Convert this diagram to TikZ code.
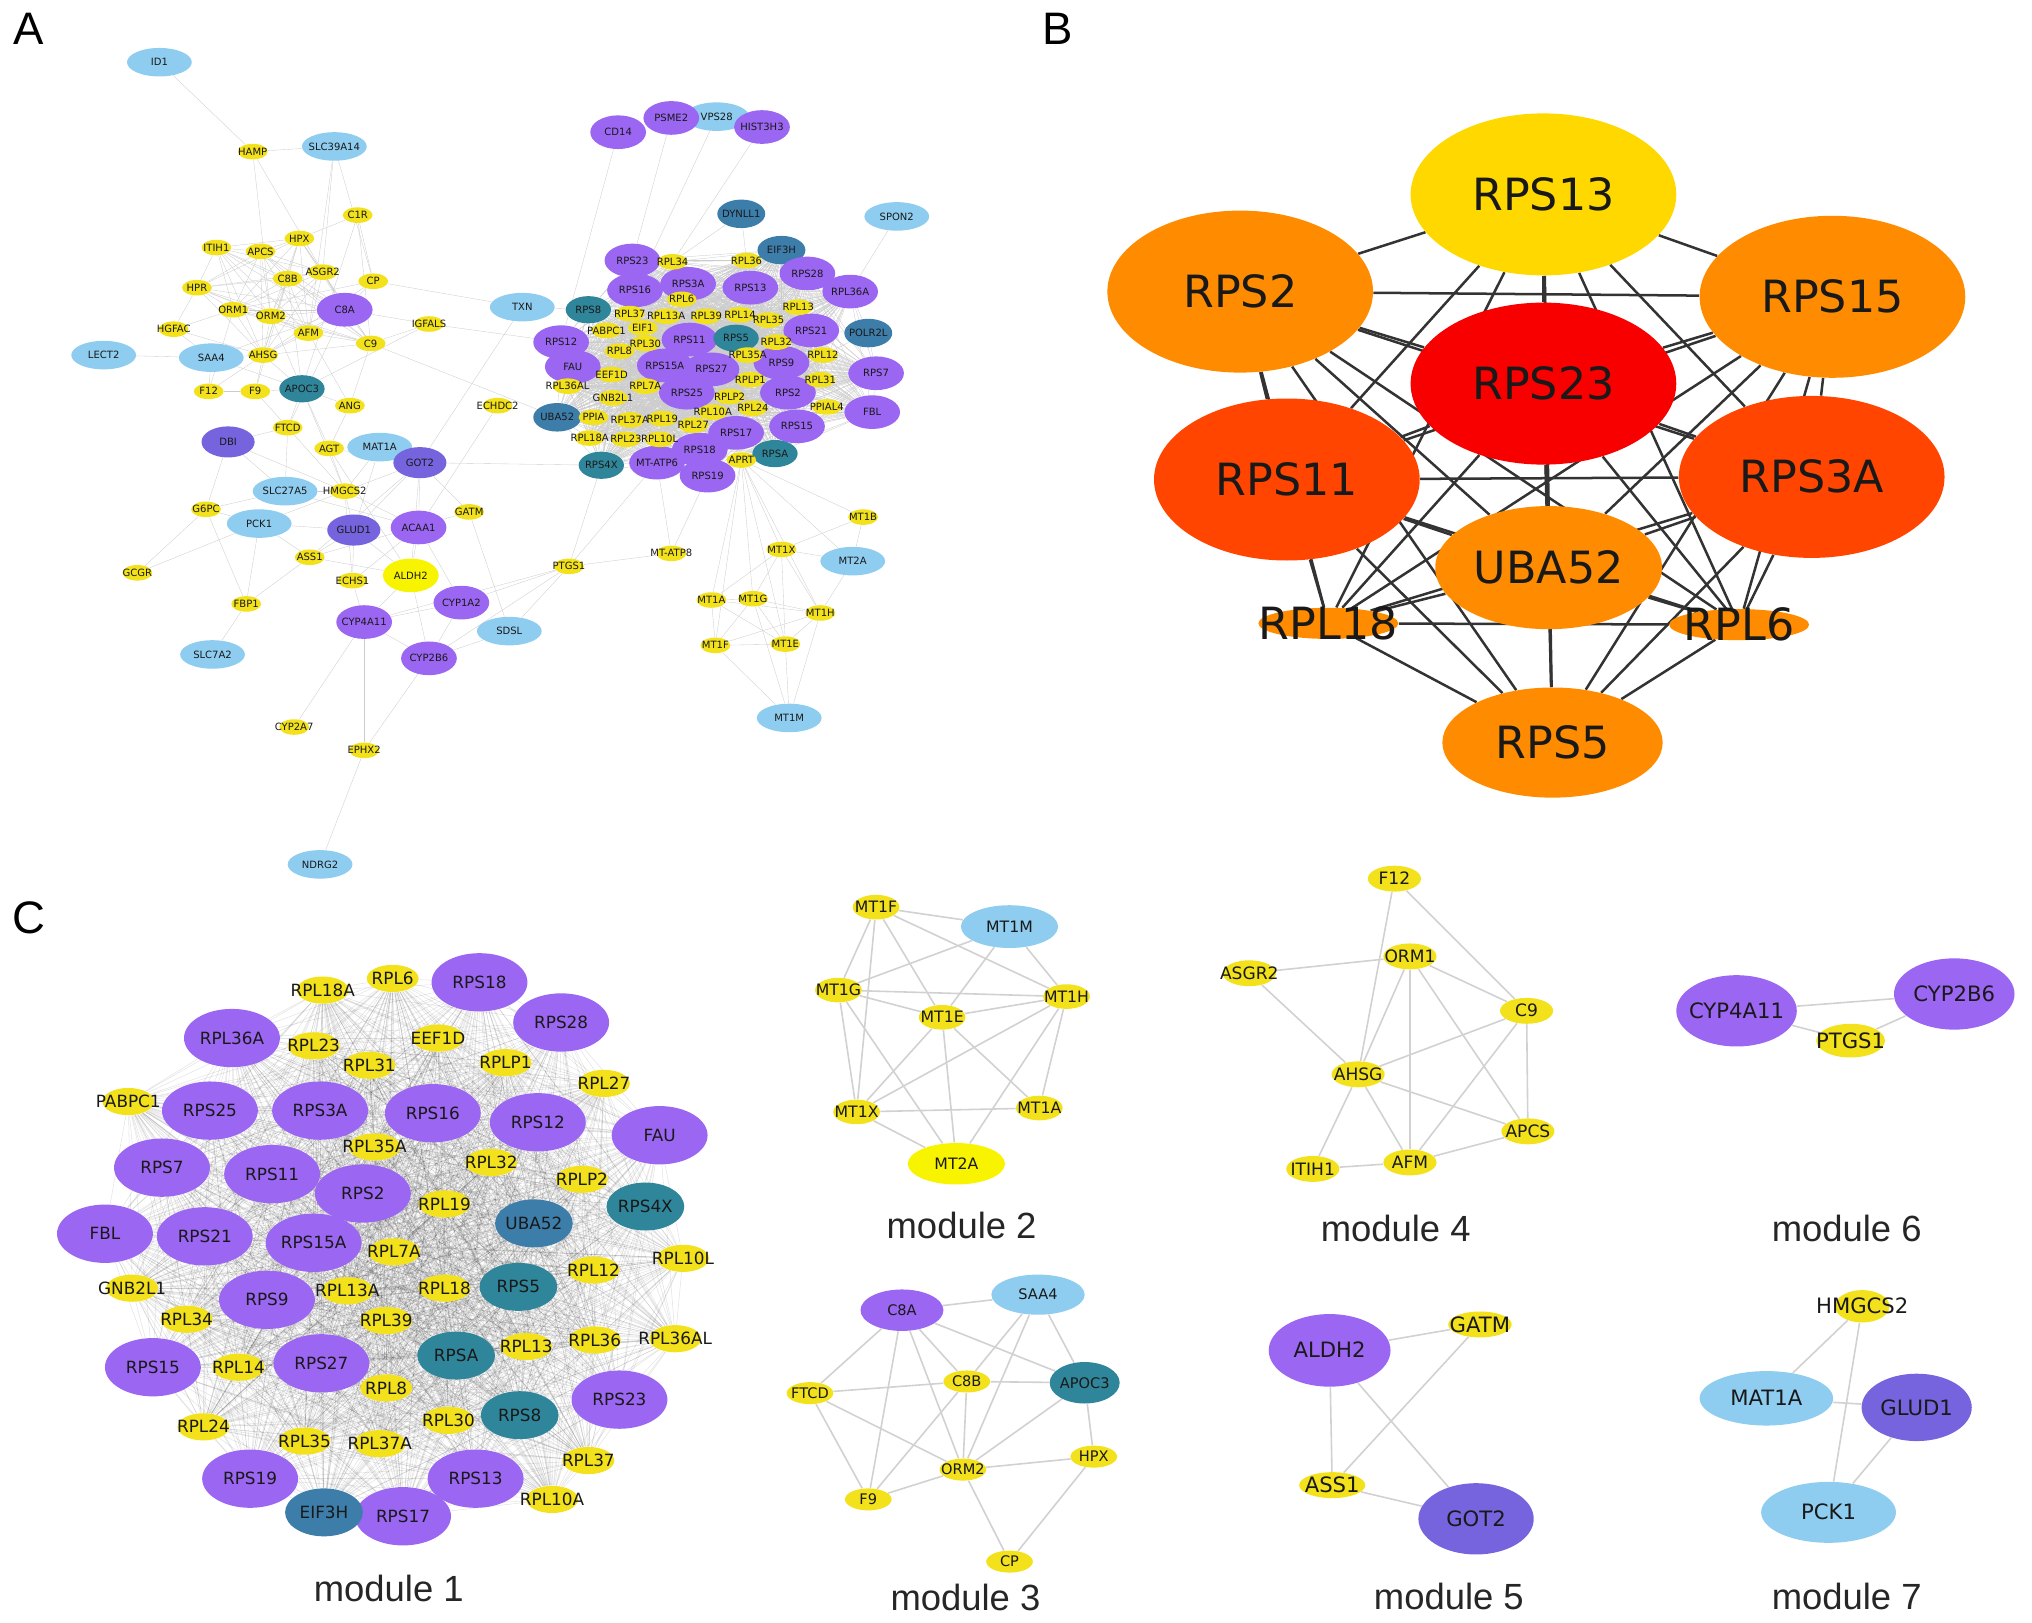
\documentclass[tikz,border=0pt]{standalone}
\usepackage{fontspec}
\usetikzlibrary{shapes.geometric}
\newfontfamily\genefont{DejaVu Sans}
\newfontfamily\capfont{Liberation Sans}
\definecolor{gyel}{HTML}{F2E11B}
\definecolor{gbri}{HTML}{F8F400}
\definecolor{gpur}{HTML}{9B66F2}
\definecolor{gsky}{HTML}{8ECDF0}
\definecolor{gteal}{HTML}{2F869B}
\definecolor{gsteel}{HTML}{3D7DAA}
\definecolor{gslate}{HTML}{7564DE}
\definecolor{hgold}{HTML}{FFD800}
\definecolor{horange}{HTML}{FF8C00}
\definecolor{hred}{HTML}{FF4500}
\definecolor{htop}{HTML}{F80000}
\newdimen\pxu \pxu=0.02cm
\newcommand\gn[1]{\makebox[0pt]{\raisebox{-.36em}[0pt][0pt]{#1}}}
\pgfdeclarelayer{bg}
\pgfsetlayers{bg,main}
\tikzset{
  gene/.style={ellipse, inner sep=0pt, text=black!90},
  sz/.style 2 args={minimum width=#1\pxu, minimum height=#2\pxu},
  % panel A
  afont/.style={font=\genefont\fontsize{4.4pt}{5pt}\selectfont},
  aY/.style={gene, afont, fill=gyel, sz={23}{12}},
  aH/.style={gene, afont, fill=gbri, sz={43}{26}},
  aP/.style={gene, afont, fill=gpur, sz={43}{26}},
  aB/.style={gene, afont, fill=gsky, sz={50}{22}},
  aT/.style={gene, afont, fill=gteal, sz={35}{21}},
  aS/.style={gene, afont, fill=gsteel, sz={37}{22}},
  aV/.style={gene, afont, fill=gslate, sz={41}{24}},
  aedge/.style={draw=black!20, line width=.15pt},
  % panel B
  hub/.style={gene, font=\genefont\fontsize{19.5pt}{22pt}\selectfont},
  hedge/.style={draw=black!80, line width=1.1pt},
  % module 1
  mfont/.style={font=\genefont\fontsize{7.4pt}{9pt}\selectfont},
  mY/.style={gene, mfont, fill=gyel, sz={40}{21}},
  mP/.style={gene, mfont, fill=gpur, sz={74}{45}},
  mT/.style={gene, mfont, fill=gteal, sz={60}{37}},
  mS/.style={gene, mfont, fill=gsteel, sz={60}{37}},
  medge/.style={draw=black, opacity=.1, line width=.25pt},
  % modules 2-7
  cedge/.style={draw=black!18, line width=.7pt},
  modlabel/.style={font=\capfont\fontsize{16pt}{18pt}\selectfont, text=black!85, inner sep=0pt},
  panel/.style={font=\capfont\fontsize{20pt}{22pt}\selectfont, inner sep=0pt}
}

\begin{document}
\begin{tikzpicture}[x=0.02cm, y=-0.02cm]
  \useasboundingbox (0,0) rectangle (1568,1252);

  \node[panel] (labA) at (22,22) {A};
  \node[panel] (labB) at (816,22) {B};
  \node[panel] (labC) at (22,708) {C};

  % ---------------- panel A ----------------
  \node[aB] (aID1) at (123,48) {\gn{ID1}};
  \node[aB] (aSLC39A14) at (258,113) {\gn{SLC39A14}};
  \node[aY] (aHAMP) at (195,117) {\gn{HAMP}};
  \node[aY] (aC1R) at (276,166) {\gn{C1R}};
  \node[aY] (aHPX) at (231,184) {\gn{HPX}};
  \node[aY] (aITIH1) at (167,191) {\gn{ITIH1}};
  \node[aY] (aAPCS) at (201,194) {\gn{APCS}};
  \node[aY] (aASGR2) at (249,210) {\gn{ASGR2}};
  \node[aY] (aC8B) at (222,215) {\gn{C8B}};
  \node[aY] (aCP) at (288,217) {\gn{CP}};
  \node[aY] (aHPR) at (152,222) {\gn{HPR}};
  \node[aP] (aC8A) at (266,239) {\gn{C8A}};
  \node[aY] (aORM1) at (180,239) {\gn{ORM1}};
  \node[aY] (aORM2) at (209,244) {\gn{ORM2}};
  \node[aY] (aIGFALS) at (331,250) {\gn{IGFALS}};
  \node[aY] (aHGFAC) at (134,254) {\gn{HGFAC}};
  \node[aY] (aAFM) at (238,257) {\gn{AFM}};
  \node[aY] (aC9) at (286,265) {\gn{C9}};
  \node[aB] (aLECT2) at (80,274) {\gn{LECT2}};
  \node[aB] (aSAA4) at (163,276) {\gn{SAA4}};
  \node[aY] (aAHSG) at (203,274) {\gn{AHSG}};
  \node[aY] (aF12) at (161,302) {\gn{F12}};
  \node[aY] (aF9) at (197,302) {\gn{F9}};
  \node[aT] (aAPOC3) at (233,300) {\gn{APOC3}};
  \node[aY] (aANG) at (270,313) {\gn{ANG}};
  \node[aY] (aECHDC2) at (384,313) {\gn{ECHDC2}};
  \node[aY] (aFTCD) at (222,330) {\gn{FTCD}};
  \node[aV] (aDBI) at (176,341) {\gn{DBI}};
  \node[aY] (aAGT) at (254,346) {\gn{AGT}};
  \node[aB] (aMAT1A) at (293,345) {\gn{MAT1A}};
  \node[aV] (aGOT2) at (324,357) {\gn{GOT2}};
  \node[aB] (aTXN) at (403,237) {\gn{TXN}};
  \node[aB] (aSLC27A5) at (220,379) {\gn{SLC27A5}};
  \node[aY] (aHMGCS2) at (266,379) {\gn{HMGCS2}};
  \node[aY] (aG6PC) at (159,393) {\gn{G6PC}};
  \node[aB] (aPCK1) at (200,404) {\gn{PCK1}};
  \node[aV] (aGLUD1) at (273,409) {\gn{GLUD1}};
  \node[aP] (aACAA1) at (323,407) {\gn{ACAA1}};
  \node[aY] (aGATM) at (362,395) {\gn{GATM}};
  \node[aY] (aASS1) at (239,430) {\gn{ASS1}};
  \node[aY] (aGCGR) at (106,442) {\gn{GCGR}};
  \node[aY] (aECHS1) at (272,448) {\gn{ECHS1}};
  \node[aH] (aALDH2) at (317,444) {\gn{ALDH2}};
  \node[aY] (aPTGS1) at (439,437) {\gn{PTGS1}};
  \node[aY] (aFBP1) at (190,466) {\gn{FBP1}};
  \node[aP] (aCYP1A2) at (356,465) {\gn{CYP1A2}};
  \node[aP] (aCYP4A11) at (281,480) {\gn{CYP4A11}};
  \node[aB] (aSDSL) at (393,487) {\gn{SDSL}};
  \node[aB] (aSLC7A2) at (164,505) {\gn{SLC7A2}};
  \node[aP] (aCYP2B6) at (331,508) {\gn{CYP2B6}};
  \node[aY] (aCYP2A7) at (227,561) {\gn{CYP2A7}};
  \node[aY] (aEPHX2) at (281,579) {\gn{EPHX2}};
  \node[aB] (aNDRG2) at (247,667) {\gn{NDRG2}};
  \node[aP] (aCD14) at (477,102) {\gn{CD14}};
  \node[aB] (aVPS28) at (553,90) {\gn{VPS28}};
  \node[aP] (aPSME2) at (518,91) {\gn{PSME2}};
  \node[aP] (aHIST3H3) at (588,98) {\gn{HIST3H3}};
  \node[aS] (aDYNLL1) at (572,165) {\gn{DYNLL1}};
  \node[aB] (aSPON2) at (692,167) {\gn{SPON2}};
  \node[aY] (aMT-ATP8) at (518,427) {\gn{MT-ATP8}};
  \node[aY] (aMT1B) at (666,399) {\gn{MT1B}};
  \node[aY] (aMT1X) at (603,424) {\gn{MT1X}};
  \node[aB] (aMT2A) at (658,433) {\gn{MT2A}};
  \node[aY] (aMT1A) at (549,463) {\gn{MT1A}};
  \node[aY] (aMT1G) at (581,462) {\gn{MT1G}};
  \node[aY] (aMT1H) at (633,473) {\gn{MT1H}};
  \node[aY] (aMT1F) at (552,498) {\gn{MT1F}};
  \node[aY] (aMT1E) at (606,497) {\gn{MT1E}};
  \node[aB] (aMT1M) at (609,554) {\gn{MT1M}};
  % ribosomal cluster
  \node[aP] (aRPS23) at (488,201) {\gn{RPS23}};
  \node[aS] (aEIF3H) at (603,193) {\gn{EIF3H}};
  \node[aP] (aRPS28) at (623,211) {\gn{RPS28}};
  \node[aP] (aRPS16) at (490,224) {\gn{RPS16}};
  \node[aP] (aRPS3A) at (531,219) {\gn{RPS3A}};
  \node[aP] (aRPS13) at (579,222) {\gn{RPS13}};
  \node[aP] (aRPL36A) at (656,225) {\gn{RPL36A}};
  \node[aT] (aRPS8) at (454,239) {\gn{RPS8}};
  \node[aP] (aRPS21) at (626,255) {\gn{RPS21}};
  \node[aS] (aPOLR2L) at (670,257) {\gn{POLR2L}};
  \node[aP] (aRPS12) at (433,264) {\gn{RPS12}};
  \node[aP] (aRPS11) at (532,262) {\gn{RPS11}};
  \node[aT] (aRPS5) at (568,261) {\gn{RPS5}};
  \node[aP] (aRPS9) at (603,280) {\gn{RPS9}};
  \node[aP] (aFAU) at (442,283) {\gn{FAU}};
  \node[aP] (aRPS15A) at (513,282) {\gn{RPS15A}};
  \node[aP] (aRPS27) at (549,285) {\gn{RPS27}};
  \node[aP] (aRPS7) at (676,288) {\gn{RPS7}};
  \node[aP] (aRPS25) at (530,303) {\gn{RPS25}};
  \node[aP] (aRPS2) at (608,303) {\gn{RPS2}};
  \node[aP] (aFBL) at (673,318) {\gn{FBL}};
  \node[aS] (aUBA52) at (430,322) {\gn{UBA52}};
  \node[aP] (aRPS15) at (615,329) {\gn{RPS15}};
  \node[aP] (aRPS17) at (568,334) {\gn{RPS17}};
  \node[aP] (aRPS18) at (540,347) {\gn{RPS18}};
  \node[aT] (aRPSA) at (598,350) {\gn{RPSA}};
  \node[aT] (aRPS4X) at (464,359) {\gn{RPS4X}};
  \node[aP] (aMT-ATP6) at (507,357) {\gn{MT-ATP6}};
  \node[aP] (aRPS19) at (546,367) {\gn{RPS19}};
  \node[aY] (aRPL34) at (519,202) {\gn{RPL34}};
  \node[aY] (aRPL36) at (576,201) {\gn{RPL36}};
  \node[aY] (aRPL6) at (526,231) {\gn{RPL6}};
  \node[aY] (aRPL37) at (486,242) {\gn{RPL37}};
  \node[aY] (aRPL13A) at (514,244) {\gn{RPL13A}};
  \node[aY] (aRPL39) at (545,244) {\gn{RPL39}};
  \node[aY] (aRPL13) at (616,237) {\gn{RPL13}};
  \node[aY] (aRPL14) at (571,243) {\gn{RPL14}};
  \node[aY] (aRPL35) at (593,247) {\gn{RPL35}};
  \node[aY] (aPABPC1) at (468,255) {\gn{PABPC1}};
  \node[aY] (aEIF1) at (496,253) {\gn{EIF1}};
  \node[aY] (aRPL30) at (498,265) {\gn{RPL30}};
  \node[aY] (aRPL32) at (599,264) {\gn{RPL32}};
  \node[aY] (aRPL8) at (478,271) {\gn{RPL8}};
  \node[aY] (aRPL35A) at (577,274) {\gn{RPL35A}};
  \node[aY] (aRPL12) at (635,274) {\gn{RPL12}};
  \node[aY] (aEEF1D) at (472,289) {\gn{EEF1D}};
  \node[aY] (aRPLP1) at (579,293) {\gn{RPLP1}};
  \node[aY] (aRPL31) at (633,293) {\gn{RPL31}};
  \node[aY] (aRPL36AL) at (438,298) {\gn{RPL36AL}};
  \node[aY] (aRPL7A) at (498,298) {\gn{RPL7A}};
  \node[aY] (aRPLP2) at (563,306) {\gn{RPLP2}};
  \node[aY] (aGNB2L1) at (473,307) {\gn{GNB2L1}};
  \node[aY] (aRPL24) at (581,315) {\gn{RPL24}};
  \node[aY] (aRPL10A) at (550,318) {\gn{RPL10A}};
  \node[aY] (aPPIAL4) at (638,314) {\gn{PPIAL4}};
  \node[aY] (aPPIA) at (458,322) {\gn{PPIA}};
  \node[aY] (aRPL37A) at (486,324) {\gn{RPL37A}};
  \node[aY] (aRPL19) at (511,323) {\gn{RPL19}};
  \node[aY] (aRPL27) at (535,328) {\gn{RPL27}};
  \node[aY] (aRPL18A) at (455,338) {\gn{RPL18A}};
  \node[aY] (aRPL23) at (483,339) {\gn{RPL23}};
  \node[aY] (aRPL10L) at (509,339) {\gn{RPL10L}};
  \node[aY] (aAPRT) at (572,355) {\gn{APRT}};

  \def\clusterA{RPS23,RPL34,EIF3H,RPL36,RPS28,RPS16,RPS3A,RPS13,RPL36A,RPL6,RPS8,RPL37,RPL13A,RPL39,RPL13,RPL14,RPL35,PABPC1,RPS21,RPS11,RPS12,RPL30,RPS5,RPL32,RPL8,RPL35A,RPS9,RPL12,FAU,EEF1D,RPS15A,RPS27,RPS7,RPLP1,RPL31,RPL36AL,RPL7A,RPS25,RPS2,RPLP2,GNB2L1,RPL24,RPL10A,FBL,UBA52,RPL37A,RPL19,RPL27,RPS15,RPS17,RPL18A,RPL23,RPL10L,RPS18,RPSA,RPS4X,RPS19}

  \begin{pgfonlayer}{bg}
    \foreach \p [count=\i] in \clusterA {
      \foreach \q [count=\j] in \clusterA {
        \ifnum\j>\i \draw[aedge] (a\p) -- (a\q); \fi
      }
    }
    \def\coreA{ITIH1,APCS,HPX,C8B,ASGR2,HPR,ORM1,ORM2,AFM,AHSG,C9,C8A}
    \foreach \p [count=\i] in \coreA {
      \foreach \q [count=\j] in \coreA {
        \ifnum\j>\i \draw[aedge] (a\p) -- (a\q); \fi
      }
    }
    \foreach \from/\to in {ID1/HAMP,HAMP/SLC39A14,HAMP/C8A,HAMP/ORM2,SLC39A14/AFM,SLC39A14/CP,
      SLC39A14/ASGR2,C1R/CP,C1R/C9,C1R/HPX,C1R/APOC3,CP/TXN,CP/C8A,CP/ORM1,CP/AHSG,
      IGFALS/C8A,IGFALS/C9,IGFALS/RPS12,IGFALS/APOC3,TXN/GOT2,TXN/RPS8,C9/UBA52,
      LECT2/SAA4,SAA4/HGFAC,SAA4/AHSG,SAA4/APOC3,SAA4/F12,SAA4/C8A,
      F12/AHSG,F12/ORM1,F12/F9,F9/AHSG,F9/APOC3,F9/C8B,HGFAC/ORM1,HGFAC/HPR,HGFAC/AHSG,
      APOC3/AHSG,APOC3/ORM2,APOC3/C8B,APOC3/FTCD,APOC3/ANG,APOC3/AGT,APOC3/HMGCS2,
      ANG/AGT,ANG/C9,ANG/AFM,FTCD/F9,FTCD/HMGCS2,FTCD/SLC27A5,FTCD/C8A,
      DBI/FTCD,DBI/G6PC,DBI/HMGCS2,DBI/SLC27A5,AGT/MAT1A,AGT/GOT2,AGT/HMGCS2,AGT/ALDH2,
      MAT1A/GOT2,MAT1A/HMGCS2,MAT1A/GLUD1,GOT2/GLUD1,GOT2/ACAA1,GOT2/ASS1,GOT2/ALDH2,
      GOT2/GATM,GOT2/RPS4X,GOT2/HMGCS2,SLC27A5/HMGCS2,SLC27A5/G6PC,SLC27A5/ACAA1,
      HMGCS2/GLUD1,HMGCS2/ACAA1,HMGCS2/PCK1,HMGCS2/ECHS1,G6PC/PCK1,G6PC/GCGR,G6PC/FBP1,
      PCK1/GCGR,PCK1/FBP1,PCK1/GLUD1,PCK1/ASS1,GLUD1/ASS1,GLUD1/ALDH2,GLUD1/ECHS1,
      ACAA1/ECHS1,ACAA1/ALDH2,ACAA1/CYP1A2,ACAA1/ECHDC2,GATM/ASS1,GATM/SDSL,
      ASS1/FBP1,ASS1/ALDH2,ECHS1/CYP4A11,ALDH2/CYP2B6,ALDH2/CYP4A11,
      CYP4A11/CYP1A2,CYP4A11/CYP2B6,CYP4A11/CYP2A7,CYP4A11/EPHX2,CYP4A11/PTGS1,
      CYP1A2/CYP2B6,CYP1A2/PTGS1,CYP2B6/EPHX2,CYP2B6/PTGS1,CYP2B6/SDSL,SDSL/PTGS1,
      EPHX2/NDRG2,FBP1/SLC7A2,PTGS1/RPS4X,PTGS1/MT-ATP8,PTGS1/MT-ATP6,
      MT-ATP8/MT-ATP6,MT-ATP8/RPS19,CD14/RPS12,PSME2/RPS23,VPS28/RPS16,HIST3H3/RPL34,
      DYNLL1/RPL36,DYNLL1/RPL34,SPON2/RPL36A,
      EIF1/RPS11,EIF1/RPS3A,EIF1/PABPC1,EIF1/RPL13A,PPIA/UBA52,PPIA/RPL37A,PPIA/RPS4X,
      PPIA/GNB2L1,MT-ATP6/RPS19,MT-ATP6/RPL10L,MT-ATP6/RPS18,APRT/RPSA,APRT/RPS19,
      APRT/RPS17,POLR2L/RPS21,POLR2L/RPL12,POLR2L/RPS7,POLR2L/RPL36A,PPIAL4/RPS2,
      PPIAL4/FBL,PPIAL4/RPS15,PPIAL4/RPL31,
      APRT/MT1A,APRT/MT1G,APRT/MT1X,APRT/MT1E,APRT/MT1H,APRT/MT2A,APRT/MT1B,APRT/MT1F,
      MT1X/MT2A,MT1X/MT1A,MT1X/MT1G,MT1X/MT1H,MT1X/MT1E,MT1X/MT1B,MT1A/MT1G,MT1A/MT1F,
      MT1A/MT1E,MT1A/MT1H,MT1G/MT1H,MT1G/MT1E,MT1G/MT1F,MT1H/MT1E,MT1H/MT1F,MT1H/MT2A,
      MT1F/MT1E,MT1F/MT1M,MT1E/MT1M,MT1H/MT1M,MT1G/MT1M,MT1B/MT2A}
      \draw[aedge] (a\from) -- (a\to);
  \end{pgfonlayer}

  % ---------------- panel B ----------------
  \node[hub, fill=hgold, sz={205}{125}] (bRPS13) at (1191,150) {\gn{RPS13}};
  \node[hub, fill=horange, sz={205}{125}] (bRPS2) at (957,225) {\gn{RPS2}};
  \node[hub, fill=horange, sz={205}{125}] (bRPS15) at (1414,229) {\gn{RPS15}};
  \node[hub, fill=htop, sz={205}{125}] (bRPS23) at (1191,296) {\gn{RPS23}};
  \node[hub, fill=hred, sz={205}{125}] (bRPS11) at (993,370) {\gn{RPS11}};
  \node[hub, fill=hred, sz={205}{125}] (bRPS3A) at (1398,368) {\gn{RPS3A}};
  \node[hub, fill=horange, sz={108}{24}] (bRPL18) at (1025,481) {\gn{RPL18}};
  \node[hub, fill=horange, sz={108}{24}] (bRPL6) at (1342,482) {\gn{RPL6}};
  \node[hub, fill=horange, sz={175}{95}] (bUBA52) at (1195,438) {\gn{UBA52}};
  \node[hub, fill=horange, sz={170}{85}] (bRPS5) at (1198,573) {\gn{RPS5}};
  \def\hubs{RPS13,RPS2,RPS15,RPS23,RPS11,RPS3A,UBA52,RPL18,RPL6,RPS5}
  \begin{pgfonlayer}{bg}
    \foreach \p [count=\i] in \hubs {
      \foreach \q [count=\j] in \hubs {
        \ifnum\j>\i \draw[hedge] (b\p) -- (b\q); \fi
      }
    }
  \end{pgfonlayer}

  % ---------------- panel C, module 1 ----------------
  \node[mP] (mRPS18) at (370,758) {\gn{RPS18}};
  \node[mP] (mRPS28) at (433,789) {\gn{RPS28}};
  \node[mP] (mRPL36A) at (179,801) {\gn{RPL36A}};
  \node[mP] (mRPS25) at (162,857) {\gn{RPS25}};
  \node[mP] (mRPS3A) at (247,857) {\gn{RPS3A}};
  \node[mP] (mRPS16) at (334,859) {\gn{RPS16}};
  \node[mP] (mRPS12) at (415,866) {\gn{RPS12}};
  \node[mP] (mFAU) at (509,876) {\gn{FAU}};
  \node[mP] (mRPS7) at (125,901) {\gn{RPS7}};
  \node[mP] (mRPS11) at (210,906) {\gn{RPS11}};
  \node[mP] (mRPS2) at (280,921) {\gn{RPS2}};
  \node[mP] (mFBL) at (81,952) {\gn{FBL}};
  \node[mP] (mRPS21) at (158,954) {\gn{RPS21}};
  \node[mP] (mRPS15A) at (242,959) {\gn{RPS15A}};
  \node[mP] (mRPS9) at (206,1003) {\gn{RPS9}};
  \node[mP] (mRPS15) at (118,1055) {\gn{RPS15}};
  \node[mP] (mRPS27) at (248,1052) {\gn{RPS27}};
  \node[mP] (mRPS23) at (478,1080) {\gn{RPS23}};
  \node[mP] (mRPS19) at (193,1141) {\gn{RPS19}};
  \node[mP] (mRPS13) at (367,1141) {\gn{RPS13}};
  \node[mP] (mRPS17) at (311,1170) {\gn{RPS17}};
  \node[mS] (mEIF3H) at (250,1167) {\gn{EIF3H}};
  \node[mS] (mUBA52) at (412,944) {\gn{UBA52}};
  \node[mT] (mRPS4X) at (498,931) {\gn{RPS4X}};
  \node[mT] (mRPS5) at (400,993) {\gn{RPS5}};
  \node[mT] (mRPSA) at (352,1046) {\gn{RPSA}};
  \node[mT] (mRPS8) at (401,1092) {\gn{RPS8}};
  \node[mY] (mRPL18A) at (249,764) {\gn{RPL18A}};
  \node[mY] (mRPL6) at (303,755) {\gn{RPL6}};
  \node[mY] (mRPL23) at (242,807) {\gn{RPL23}};
  \node[mY] (mRPL31) at (285,822) {\gn{RPL31}};
  \node[mY] (mEEF1D) at (338,801) {\gn{EEF1D}};
  \node[mY] (mRPLP1) at (390,820) {\gn{RPLP1}};
  \node[mY] (mRPL27) at (466,836) {\gn{RPL27}};
  \node[mY] (mPABPC1) at (99,850) {\gn{PABPC1}};
  \node[mY] (mRPL35A) at (289,885) {\gn{RPL35A}};
  \node[mY] (mRPL32) at (379,897) {\gn{RPL32}};
  \node[mY] (mRPLP2) at (449,910) {\gn{RPLP2}};
  \node[mY] (mRPL19) at (343,929) {\gn{RPL19}};
  \node[mY] (mRPL7A) at (304,966) {\gn{RPL7A}};
  \node[mY] (mRPL10L) at (527,971) {\gn{RPL10L}};
  \node[mY] (mRPL12) at (458,980) {\gn{RPL12}};
  \node[mY] (mGNB2L1) at (102,994) {\gn{GNB2L1}};
  \node[mY] (mRPL13A) at (268,996) {\gn{RPL13A}};
  \node[mY] (mRPL18) at (343,994) {\gn{RPL18}};
  \node[mY] (mRPL34) at (144,1018) {\gn{RPL34}};
  \node[mY] (mRPL39) at (298,1019) {\gn{RPL39}};
  \node[mY] (mRPL36) at (459,1034) {\gn{RPL36}};
  \node[mY] (mRPL36AL) at (521,1033) {\gn{RPL36AL}};
  \node[mY] (mRPL13) at (406,1039) {\gn{RPL13}};
  \node[mY] (mRPL14) at (184,1055) {\gn{RPL14}};
  \node[mY] (mRPL8) at (298,1071) {\gn{RPL8}};
  \node[mY] (mRPL30) at (346,1096) {\gn{RPL30}};
  \node[mY] (mRPL24) at (157,1101) {\gn{RPL24}};
  \node[mY] (mRPL35) at (235,1112) {\gn{RPL35}};
  \node[mY] (mRPL37A) at (293,1114) {\gn{RPL37A}};
  \node[mY] (mRPL37) at (454,1127) {\gn{RPL37}};
  \node[mY] (mRPL10A) at (426,1157) {\gn{RPL10A}};
  \node[modlabel] (mod1) at (300,1226) {module 1};

  \def\moduleOne{RPS18,RPS28,RPL36A,RPS25,RPS3A,RPS16,RPS12,FAU,RPS7,RPS11,RPS2,FBL,RPS21,RPS15A,RPS9,RPS15,RPS27,RPS23,RPS19,RPS13,RPS17,EIF3H,UBA52,RPS4X,RPS5,RPSA,RPS8,RPL18A,RPL6,RPL23,RPL31,EEF1D,RPLP1,RPL27,PABPC1,RPL35A,RPL32,RPLP2,RPL19,RPL7A,RPL10L,RPL12,GNB2L1,RPL13A,RPL18,RPL34,RPL39,RPL36,RPL36AL,RPL13,RPL14,RPL8,RPL30,RPL24,RPL35,RPL37A,RPL37,RPL10A}
  \begin{pgfonlayer}{bg}
    \foreach \p [count=\i] in \moduleOne {
      \foreach \q [count=\j] in \moduleOne {
        \ifnum\j>\i \draw[medge] (m\p) -- (m\q); \fi
      }
    }
  \end{pgfonlayer}

  % ---------------- modules 2 to 7 ----------------
  \begin{scope}[every node/.append style={font=\genefont\fontsize{6.9pt}{8pt}\selectfont}]
    \node[gene, fill=gyel, sz={36}{19}] (cMT1F) at (676,700) {\gn{MT1F}};
    \node[gene, fill=gsky, sz={75}{33}] (cMT1M) at (779,715) {\gn{MT1M}};
    \node[gene, fill=gyel, sz={36}{19}] (cMT1G) at (647,764) {\gn{MT1G}};
    \node[gene, fill=gyel, sz={36}{19}] (cMT1H) at (823,769) {\gn{MT1H}};
    \node[gene, fill=gyel, sz={36}{19}] (cMT1E) at (727,785) {\gn{MT1E}};
    \node[gene, fill=gyel, sz={36}{19}] (cMT1X) at (661,858) {\gn{MT1X}};
    \node[gene, fill=gyel, sz={36}{19}] (cMT1A) at (802,855) {\gn{MT1A}};
    \node[gene, fill=gbri, sz={75}{32}] (cMT2A) at (738,898) {\gn{MT2A}};
  \end{scope}
  \node[modlabel] (mod2) at (742,946) {module 2};

  \begin{scope}[every node/.append style={font=\genefont\fontsize{6.4pt}{8pt}\selectfont}]
    \node[gene, fill=gpur, sz={64}{32}] (cC8A) at (696,1011) {\gn{C8A}};
    \node[gene, fill=gsky, sz={72}{31}] (cSAA4) at (801,999) {\gn{SAA4}};
    \node[gene, fill=gyel, sz={36}{17}] (cC8B) at (746,1066) {\gn{C8B}};
    \node[gene, fill=gteal, sz={54}{32}] (cAPOC3) at (837,1067) {\gn{APOC3}};
    \node[gene, fill=gyel, sz={36}{17}] (cFTCD) at (625,1075) {\gn{FTCD}};
    \node[gene, fill=gyel, sz={36}{17}] (cHPX) at (844,1124) {\gn{HPX}};
    \node[gene, fill=gyel, sz={36}{17}] (cORM2) at (743,1134) {\gn{ORM2}};
    \node[gene, fill=gyel, sz={36}{17}] (cF9) at (670,1157) {\gn{F9}};
    \node[gene, fill=gyel, sz={36}{17}] (cCP) at (779,1205) {\gn{CP}};
  \end{scope}
  \node[modlabel] (mod3) at (745,1233) {module 3};

  \begin{scope}[every node/.append style={font=\genefont\fontsize{7.5pt}{9pt}\selectfont}]
    \node[gene, fill=gyel, sz={41}{20}] (cF12) at (1076,678) {\gn{F12}};
    \node[gene, fill=gyel, sz={41}{20}] (cORM1) at (1088,738) {\gn{ORM1}};
    \node[gene, fill=gyel, sz={41}{20}] (cASGR2) at (964,751) {\gn{ASGR2}};
    \node[gene, fill=gyel, sz={41}{20}] (cC9) at (1178,780) {\gn{C9}};
    \node[gene, fill=gyel, sz={41}{20}] (cAHSG) at (1048,829) {\gn{AHSG}};
    \node[gene, fill=gyel, sz={41}{20}] (cAPCS) at (1179,873) {\gn{APCS}};
    \node[gene, fill=gyel, sz={41}{20}] (cITIH1) at (1013,902) {\gn{ITIH1}};
    \node[gene, fill=gyel, sz={41}{20}] (cAFM) at (1088,897) {\gn{AFM}};
  \end{scope}
  \node[modlabel] (mod4) at (1077,948) {module 4};

  \begin{scope}[every node/.append style={font=\genefont\fontsize{9.3pt}{11pt}\selectfont}]
    \node[gene, fill=gpur, sz={94}{56}] (cALDH2) at (1026,1042) {\gn{ALDH2}};
    \node[gene, fill=gyel, sz={49}{20}] (cGATM) at (1142,1022) {\gn{GATM}};
    \node[gene, fill=gyel, sz={51}{20}] (cASS1) at (1028,1146) {\gn{ASS1}};
    \node[gene, fill=gslate, sz={89}{55}] (cGOT2) at (1139,1172) {\gn{GOT2}};
    \node[gene, fill=gpur, sz={93}{55}] (cCYP4A11) at (1340,780) {\gn{CYP4A11}};
    \node[gene, fill=gpur, sz={93}{55}] (cCYP2B6) at (1508,767) {\gn{CYP2B6}};
    \node[gene, fill=gyel, sz={53}{26}] (cPTGS1) at (1428,803) {\gn{PTGS1}};
    \node[gene, fill=gyel, sz={42}{25}] (cHMGCS2) at (1437,1008) {\gn{HMGCS2}};
    \node[gene, fill=gsky, sz={103}{42}] (cMAT1A) at (1363,1079) {\gn{MAT1A}};
    \node[gene, fill=gslate, sz={85}{52}] (cGLUD1) at (1479,1086) {\gn{GLUD1}};
    \node[gene, fill=gsky, sz={104}{47}] (cPCK1) at (1411,1167) {\gn{PCK1}};
  \end{scope}
  \node[modlabel] (mod5) at (1118,1232) {module 5};
  \node[modlabel] (mod6) at (1425,948) {module 6};
  \node[modlabel] (mod7) at (1425,1232) {module 7};

  \begin{pgfonlayer}{bg}
    \foreach \from/\to in {MT1F/MT1M,MT1F/MT1G,MT1F/MT1X,MT1F/MT1E,MT1F/MT1H,MT1M/MT1G,
      MT1M/MT1E,MT1M/MT1H,MT1G/MT1H,MT1G/MT1E,MT1G/MT1X,MT1G/MT2A,MT1E/MT1H,MT1E/MT1X,
      MT1E/MT2A,MT1E/MT1A,MT1H/MT1X,MT1H/MT1A,MT1H/MT2A,MT1X/MT1A,MT1X/MT2A,
      C8A/SAA4,C8A/FTCD,C8A/F9,C8A/ORM2,C8A/C8B,C8A/APOC3,SAA4/C8B,SAA4/ORM2,SAA4/APOC3,
      FTCD/C8B,FTCD/F9,FTCD/ORM2,C8B/APOC3,C8B/F9,C8B/ORM2,APOC3/ORM2,APOC3/HPX,
      ORM2/F9,ORM2/HPX,ORM2/CP,HPX/CP,
      F12/AHSG,F12/C9,ASGR2/ORM1,ASGR2/AHSG,ORM1/C9,ORM1/AHSG,ORM1/AFM,ORM1/APCS,
      C9/AHSG,C9/AFM,C9/APCS,AHSG/APCS,AHSG/AFM,AHSG/ITIH1,ITIH1/AFM,AFM/APCS,
      ALDH2/GATM,ALDH2/ASS1,ALDH2/GOT2,GATM/ASS1,ASS1/GOT2,
      CYP4A11/CYP2B6,CYP4A11/PTGS1,PTGS1/CYP2B6,
      HMGCS2/MAT1A,HMGCS2/PCK1,MAT1A/GLUD1,GLUD1/PCK1}
      \draw[cedge] (c\from) -- (c\to);
  \end{pgfonlayer}
\end{tikzpicture}
\end{document}
